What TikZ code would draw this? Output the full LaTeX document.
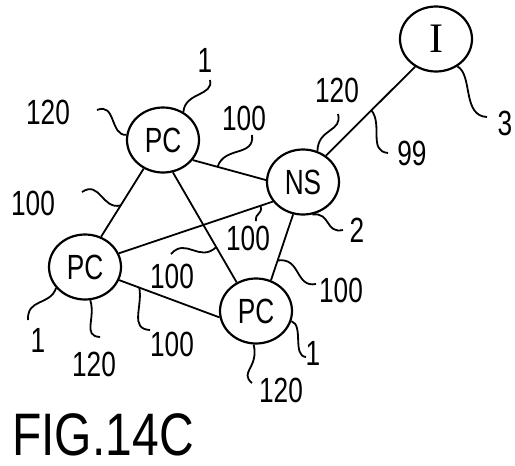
\documentclass[tikz,border=0pt]{standalone}
\usepackage{fontspec}
\usetikzlibrary{shapes.geometric,calc}
\newfontfamily\lblfont[FakeStretch=0.75]{Liberation Sans}
\newfontfamily\figfont[FakeStretch=0.8]{Liberation Sans}
\newfontfamily\ifont{Liberation Serif}
\tikzset{
  station/.style={ellipse,draw,line width=2.2pt,minimum width=72pt,minimum height=65pt,inner sep=0pt,font=\lblfont\fontsize{35}{35}\selectfont},
  link/.style={line width=1.8pt},
  leader/.style={line width=1.8pt},
  ref/.style={inner sep=0pt,font=\lblfont\fontsize{35}{35}\selectfont}
}
\begin{document}
\begin{tikzpicture}[x=1pt,y=-1pt]
\useasboundingbox (0,0) rectangle (515,466);
% stations
\node[station] (pcA) at (163,140) {PC};
\node[station] (ns) at (303,182) {NS};
\node[station,font=\ifont\fontsize{42}{42}\selectfont] (inet) at (436,39) {I};
\node[station] (pcB) at (85,267) {PC};
\node[station] (pcC) at (256,311) {PC};
% links
\draw[link] (pcA.-34) -- (ns.177);
\draw[link] (pcA.-124) -- (pcB.62);
\draw[link] (pcA.-73) -- (pcC.124);
\draw[link] (pcB.22) -- (ns.-147);
\draw[link] (pcB.-21) -- (pcC.190);
\draw[link] (ns.-107) -- (pcC.64);
\draw[link] (ns.49) -- (inet.-127);
% points on links
\coordinate (eAN) at ($(pcA.-34)!0.34!(ns.177)$);
\coordinate (eAB) at ($(pcA.-124)!0.54!(pcB.62)$);
\coordinate (eAC) at ($(pcA.-73)!0.68!(pcC.124)$);
\coordinate (eBN) at ($(pcB.22)!0.92!(ns.-147)$);
\coordinate (eBC) at ($(pcB.-21)!0.2!(pcC.190)$);
\coordinate (eNC) at ($(ns.-107)!0.70!(pcC.64)$);
\coordinate (eNI) at ($(ns.49)!0.51!(inet.-127)$);
% reference labels
\node[ref] (t1a) at (205,60) {1};
\node[ref] (t120a) at (48,112) {120};
\node[ref] (t100a) at (244,118) {100};
\node[ref] (t100b) at (33,203) {100};
\node[ref] (t120n) at (337,90) {120};
\node[ref] (t99) at (412,153) {99};
\node[ref] (t3) at (505,123) {3};
\node[ref] (t2) at (357,230) {2};
\node[ref] (t100c) at (248,238) {100};
\node[ref] (t100d) at (172,276) {100};
\node[ref] (t100e) at (341,290) {100};
\node[ref] (t100f) at (172,344) {100};
\node[ref] (t1b) at (38,340) {1};
\node[ref] (t120b) at (94,364) {120};
\node[ref] (t1c) at (313,353) {1};
\node[ref] (t120c) at (281,390) {120};
\node[inner sep=0pt,font=\figfont\fontsize{60}{60}\selectfont] (fig) at (103,435) {FIG.14C};
% leader free ends
\coordinate (l1a) at (210,80);
\coordinate (l120a) at (97,110);
\coordinate (l100a) at (252,135);
\coordinate (l100b) at (82,192);
\coordinate (l120n) at (338,114);
\coordinate (l99) at (388,153);
\coordinate (l3) at (487,117);
\coordinate (l2) at (343,230);
\coordinate (l100c) at (256,221);
\coordinate (l100d) at (171,254);
\coordinate (l100e) at (316,284);
\coordinate (l100f) at (150,330);
\coordinate (l1b) at (28,320);
\coordinate (l120b) at (100,337);
\coordinate (l1c) at (306,357);
\coordinate (l120c) at (252,383);
% leaders
\draw[leader] (l1a) .. controls (214,96) and (185,92) .. (pcA.54);
\draw[leader] (l120a) .. controls (116,102) and (110,136) .. (pcA.172);
\draw[leader] (l100b) .. controls (100,180) and (102,210) .. (eAB);
\draw[leader] (eAN) .. controls (224,146) and (255,157) .. (l100a);
\draw[leader] (l120n) .. controls (343,132) and (318,128) .. (ns.65);
\draw[leader] (eNI) .. controls (383,125) and (368,151) .. (l99);
\draw[leader] (inet.-52) .. controls (473,75) and (462,116) .. (l3);
\draw[leader] (ns.-74) .. controls (331,212) and (325,234) .. (l2);
\draw[leader] (eBN) .. controls (263,215) and (255,212) .. (l100c);
\draw[leader] (l100d) .. controls (186,237) and (199,263) .. (eAC);
\draw[leader] (eNC) .. controls (301,257) and (295,288) .. (l100e);
\draw[leader] (eBC) .. controls (143,306) and (129,329) .. (l100f);
\draw[leader] (pcB.-144) .. controls (50,306) and (27,298) .. (l1b);
\draw[leader] (pcB.-81) .. controls (96,318) and (82,336) .. (l120b);
\draw[leader] (pcC.-16) .. controls (304,325) and (292,356) .. (l1c);
\draw[leader] (pcC.-94) .. controls (259,368) and (239,372) .. (l120c);
\end{tikzpicture}
\end{document}
